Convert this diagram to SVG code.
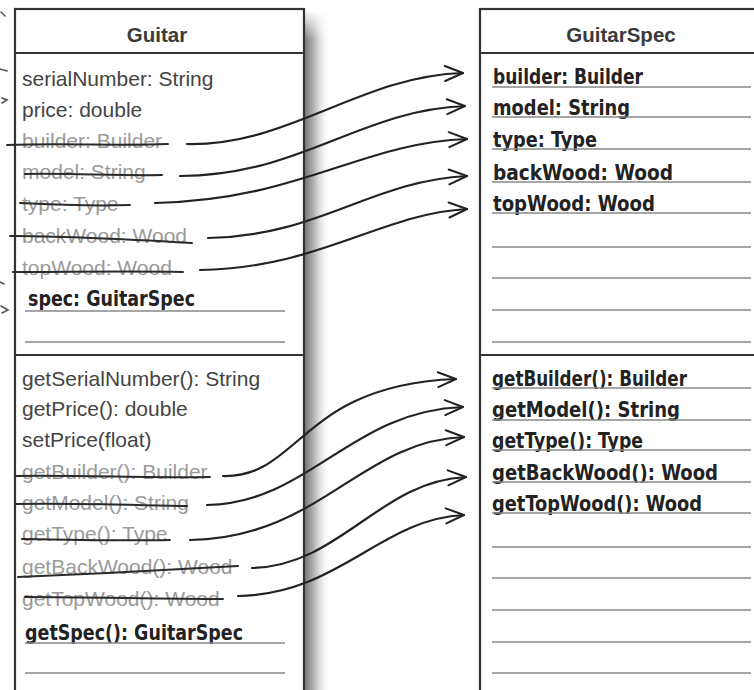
<svg xmlns="http://www.w3.org/2000/svg" width="754" height="690" viewBox="0 0 754 690">
<defs>
<linearGradient id="shadow" x1="0" y1="0" x2="1" y2="0">
<stop offset="0" stop-color="#7a7a7a"/>
<stop offset="0.35" stop-color="#b5b5b5"/>
<stop offset="1" stop-color="#ffffff" stop-opacity="0"/>
</linearGradient>
<linearGradient id="shadowTop" x1="0" y1="0" x2="0" y2="1">
<stop offset="0" stop-color="#ffffff" stop-opacity="1"/>
<stop offset="1" stop-color="#ffffff" stop-opacity="0"/>
</linearGradient>
<marker id="ah" markerWidth="22" markerHeight="18" refX="20" refY="9" orient="auto" markerUnits="userSpaceOnUse" viewBox="0 0 22 18">
<path d="M2,1.5 L20,9 L2,16.5" fill="none" stroke="#222" stroke-width="2" stroke-linecap="round" stroke-linejoin="round"/>
</marker>
</defs>
<style>
.box{fill:#fff;stroke:#333;stroke-width:2.2}
.div{stroke:#333;stroke-width:2.2}
.rule{stroke:#888;stroke-width:1.6}
.hdr{font-family:"Liberation Sans",Arial,sans-serif;font-size:20.5px;font-weight:bold;fill:#3a3a3a;text-anchor:middle}
.t{font-family:"Liberation Sans",Arial,sans-serif;font-size:21px;fill:#444}
.g{font-family:"Liberation Sans",Arial,sans-serif;font-size:21px;fill:#9a9a9a}
.h{font-family:"Liberation Sans Narrow","DejaVu Sans Condensed","Liberation Sans",sans-serif;font-size:22px;font-weight:bold;fill:#222}
.st{stroke:#2a2a2a;stroke-width:2;fill:none;stroke-linecap:round}
.c{stroke:#222;stroke-width:2.2;fill:none;stroke-linecap:round;marker-end:url(#ah)}
.m{stroke:#555;stroke-width:1.6;fill:none;stroke-linecap:round}
</style>
<rect width="754" height="690" fill="#fff"/>

<!-- stray marks at left edge -->
<g id="edge-marks">
<path class="m" d="M1,12 L5,16"/>
<path class="m" d="M0,69 L7,71"/>
<path class="m" d="M2,98 L7,100 L2,103"/>
<path class="m" d="M0,282 L4,284"/>
<path class="m" d="M1,306 L8,310 L2,313"/>
</g>

<!-- shadow of Guitar box -->
<rect x="305" y="12" width="26" height="678" fill="url(#shadow)"/>
<rect x="305" y="10" width="26" height="30" fill="url(#shadowTop)"/>

<g id="guitar">
<rect class="box" x="15" y="9" width="289" height="700"/>
<line class="div" x1="15" y1="53" x2="304" y2="53"/>
<line class="div" x1="15" y1="355" x2="304" y2="355"/>
<text class="hdr" x="157" y="42">Guitar</text>
<text class="t" x="22" y="86">serialNumber: String</text>
<text class="t" x="22" y="117">price: double</text>
<text class="g" x="22" y="148">builder: Builder</text>
<text class="g" x="22" y="179">model: String</text>
<text class="g" x="22" y="211">type: Type</text>
<text class="g" x="22" y="243">backWood: Wood</text>
<text class="g" x="22" y="275">topWood: Wood</text>
<path class="st" d="M7,145 C60,143 120,146 168,144"/>
<path class="st" d="M25,174 C70,173 120,176 162,175"/>
<path class="st" d="M20,203 C60,205 100,206 130,205"/>
<path class="st" d="M10,236 C70,236 140,240 192,243"/>
<path class="st" d="M13,272 C70,272 130,271 183,272"/>
<text class="h" x="28" y="306" textLength="167" lengthAdjust="spacingAndGlyphs">spec: GuitarSpec</text>
<line class="rule" x1="25" y1="311" x2="285" y2="311"/>
<line class="rule" x1="25" y1="342" x2="285" y2="342"/>

<text class="t" x="22" y="386">getSerialNumber(): String</text>
<text class="t" x="22" y="416">getPrice(): double</text>
<text class="t" x="22" y="447">setPrice(float)</text>
<text class="g" x="22" y="479">getBuilder(): Builder</text>
<text class="g" x="22" y="510">getModel(): String</text>
<text class="g" x="22" y="541">getType(): Type</text>
<text class="g" x="22" y="574">getBackWood(): Wood</text>
<text class="g" x="22" y="606">getTopWood(): Wood</text>
<path class="st" d="M15,476 C80,475 150,478 210,477"/>
<path class="st" d="M15,504 C70,503 130,505 187,506"/>
<path class="st" d="M22,539 C70,540 120,541 170,540"/>
<path class="st" d="M18,577 C90,574 170,570 238,566"/>
<path class="st" d="M25,597 C90,597 160,599 223,599"/>
<text class="h" x="25" y="640" textLength="218" lengthAdjust="spacingAndGlyphs">getSpec(): GuitarSpec</text>
<line class="rule" x1="25" y1="643" x2="285" y2="643"/>
<line class="rule" x1="25" y1="673" x2="285" y2="673"/>
</g>

<g id="guitarspec">
<rect class="box" x="480" y="9" width="300" height="700"/>
<line class="div" x1="480" y1="53" x2="754" y2="53"/>
<line class="div" x1="480" y1="355" x2="754" y2="355"/>
<text class="hdr" x="621" y="42">GuitarSpec</text>
<text class="h" x="493" y="84" textLength="150" lengthAdjust="spacingAndGlyphs">builder: Builder</text>
<text class="h" x="493" y="115" textLength="137" lengthAdjust="spacingAndGlyphs">model: String</text>
<text class="h" x="493" y="147" textLength="104" lengthAdjust="spacingAndGlyphs">type: Type</text>
<text class="h" x="493" y="180" textLength="180" lengthAdjust="spacingAndGlyphs">backWood: Wood</text>
<text class="h" x="493" y="211" textLength="162" lengthAdjust="spacingAndGlyphs">topWood: Wood</text>
<line class="rule" x1="492" y1="87" x2="751" y2="87"/>
<line class="rule" x1="492" y1="117" x2="751" y2="117"/>
<line class="rule" x1="492" y1="149" x2="751" y2="149"/>
<line class="rule" x1="492" y1="182" x2="751" y2="182"/>
<line class="rule" x1="492" y1="213" x2="751" y2="213"/>
<line class="rule" x1="492" y1="247" x2="751" y2="247"/>
<line class="rule" x1="492" y1="278" x2="751" y2="278"/>
<line class="rule" x1="492" y1="310" x2="751" y2="310"/>
<line class="rule" x1="492" y1="342" x2="751" y2="342"/>

<text class="h" x="492" y="386" textLength="195" lengthAdjust="spacingAndGlyphs">getBuilder(): Builder</text>
<text class="h" x="492" y="417" textLength="188" lengthAdjust="spacingAndGlyphs">getModel(): String</text>
<text class="h" x="492" y="448" textLength="151" lengthAdjust="spacingAndGlyphs">getType(): Type</text>
<text class="h" x="492" y="480" textLength="226" lengthAdjust="spacingAndGlyphs">getBackWood(): Wood</text>
<text class="h" x="492" y="511" textLength="210" lengthAdjust="spacingAndGlyphs">getTopWood(): Wood</text>
<line class="rule" x1="492" y1="388" x2="751" y2="388"/>
<line class="rule" x1="492" y1="420" x2="751" y2="420"/>
<line class="rule" x1="492" y1="450" x2="751" y2="450"/>
<line class="rule" x1="492" y1="482" x2="751" y2="482"/>
<line class="rule" x1="492" y1="513" x2="751" y2="513"/>
<line class="rule" x1="492" y1="547" x2="751" y2="547"/>
<line class="rule" x1="492" y1="578" x2="751" y2="578"/>
<line class="rule" x1="492" y1="610" x2="751" y2="610"/>
<line class="rule" x1="492" y1="642" x2="751" y2="642"/>
<line class="rule" x1="492" y1="673" x2="751" y2="673"/>
</g>

<g id="connectors">
<path class="c" d="M187,144 C290,146 360,76 463,73"/>
<path class="c" d="M180,176 C300,176 360,110 465,106"/>
<path class="c" d="M155,203 C300,200 360,143 467,139"/>
<path class="c" d="M208,238 C320,236 370,181 467,176"/>
<path class="c" d="M200,270 C320,268 380,214 467,209"/>
<path class="c" d="M223,476 C300,478 300,385 456,379"/>
<path class="c" d="M207,505 C310,503 350,411 463,407"/>
<path class="c" d="M190,540 C320,538 360,441 464,437"/>
<path class="c" d="M252,568 C340,566 380,481 466,477"/>
<path class="c" d="M238,596 C340,594 380,519 464,515"/>
</g>
</svg>
